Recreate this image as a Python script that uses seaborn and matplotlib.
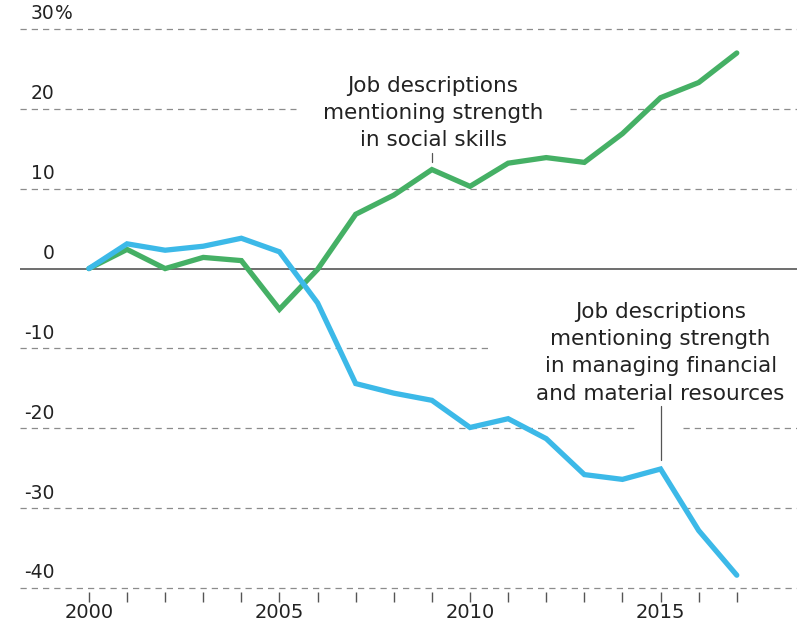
import matplotlib
matplotlib.use("Agg")
import matplotlib.pyplot as plt
import seaborn as sns
import pandas as pd

years = list(range(2000, 2018))
social = [0, 2.4, 0, 1.4, 1.0, -5.1, -0.1, 6.8, 9.2, 12.4, 10.3, 13.2, 13.9, 13.3, 16.9, 21.4, 23.3, 27.0]
financial = [0, 3.1, 2.3, 2.8, 3.8, 2.1, -4.3, -14.4, -15.6, -16.5, -19.9, -18.8, -21.3, -25.8, -26.4, -25.1, -32.8, -38.4]
ytick_values = [30, 20, 10, -10, -20, -30, -40]
ytick_labels = ["30", "20", "10", "-10", "-20", "-30", "-40"]
xtick_labels = {2000: "2000", 2005: "2005", 2010: "2010", 2015: "2015"}

social_label = "Job descriptions\nmentioning strength\nin social skills"
financial_label = "Job descriptions\nmentioning strength\nin managing financial\nand material resources"

green = "#45b065"
blue = "#3cb9e8"
text_color = "#222222"

sns.set_theme(style="white")
plt.rcParams["font.family"] = ["DejaVu Sans"]

df = pd.DataFrame({"year": years, "social": social, "financial": financial})

fig = plt.figure(figsize=(7.97, 6.23), dpi=100)
ax = fig.add_axes([0.025, 0.0498, 0.975, 0.910])

x0, x1 = 1998.19, 2018.58
ax.set_xlim(x0, x1)
ax.set_ylim(-40.5, 30.5)

# dashed gridlines, with gaps where the labels sit
gaps = {20: (2005.43, 2012.62), -10: (2010.47, x1 + 1), -20: (2014.41, 2015.59)}
for v in ytick_values:
    if v in gaps:
        a, b = gaps[v]
        segs = [(x0, a), (b, x1)]
    else:
        segs = [(x0, x1)]
    for s, e in segs:
        if e > s:
            ax.hlines(v, s, min(e, x1), colors="#8c8c8c", linewidth=0.9,
                      linestyles=(0, (5, 4)), zorder=1)
ax.axhline(0, color="#555555", linewidth=1.2, zorder=2)

sns.lineplot(data=df, x="year", y="social", ax=ax, color=green, linewidth=3.8,
             solid_joinstyle="miter", zorder=3)
sns.lineplot(data=df, x="year", y="financial", ax=ax, color=blue, linewidth=3.8,
             solid_joinstyle="miter", zorder=4)

# y labels above gridlines
for v, lab in zip(ytick_values, ytick_labels):
    ax.text(1999.1, v + 0.7, lab, ha="right", va="bottom", fontsize=13.5,
            color=text_color)
ax.text(1999.1, 30.7, "%", ha="left", va="bottom", fontsize=13.5, color=text_color)
ax.text(1999.1, 0.7, "0", ha="right", va="bottom", fontsize=13.5, color=text_color)

# annotations
ax.text(2009.03, 14.8, social_label, ha="center", va="bottom", fontsize=15.5,
        color=text_color, linespacing=1.45)
ax.plot([2009, 2009], [14.5, 13.3], color="#555555", linewidth=0.9)
ax.text(2015.0, -16.9, financial_label, ha="center", va="bottom", fontsize=15.5,
        color=text_color, linespacing=1.45)
ax.plot([2015, 2015], [-17.2, -24.0], color="#555555", linewidth=0.9)

ax.set_xticks(years)
ax.set_xticklabels([xtick_labels.get(y, "") for y in years])
ax.set_yticks([])
ax.tick_params(axis="x", length=7, width=1, color="#555555", pad=1,
               labelsize=14, labelcolor=text_color, bottom=True)
ax.set_xlabel("")
ax.set_ylabel("")
for sp in ax.spines.values():
    sp.set_visible(False)

fig.savefig("out.png", dpi=100)
